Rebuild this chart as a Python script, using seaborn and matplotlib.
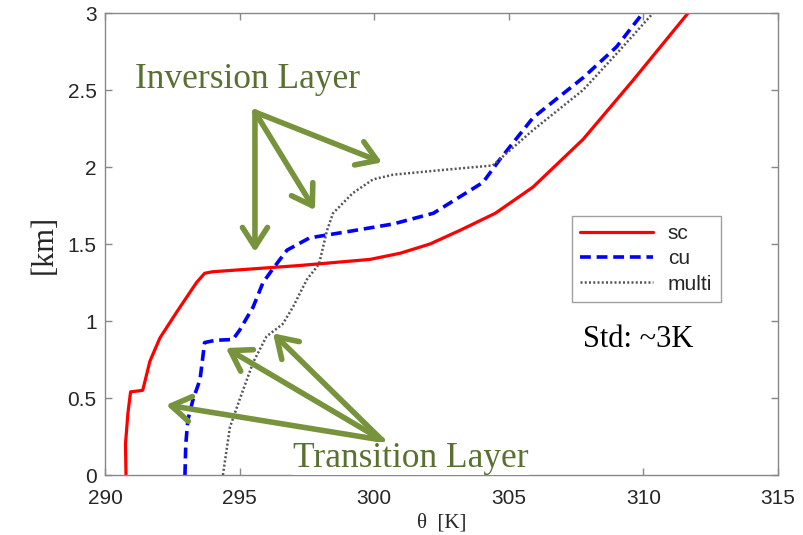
import numpy as np
import pandas as pd
import seaborn as sns
import matplotlib.pyplot as plt

# Potential temperature profiles
sc_theta = [290.78, 290.76, 290.85, 290.95, 291.4, 291.67, 292.04, 292.67, 293.4, 293.7, 294.0,
            297.2, 299.84, 300.96, 302.07, 303.2, 304.5, 305.9, 307.76, 309.6, 311.66]
sc_z = [0.0, 0.2, 0.4, 0.54, 0.55, 0.74, 0.89, 1.06, 1.25, 1.31, 1.32,
        1.36, 1.40, 1.44, 1.50, 1.59, 1.70, 1.87, 2.18, 2.56, 3.0]

cu_theta = [292.97, 293.0, 293.08, 293.27, 293.53, 293.7, 294.1, 294.75, 295.0, 295.5, 295.87,
            296.24, 296.76, 297.6, 299.0, 300.7, 302.2, 304.04, 304.67, 305.9, 307.76, 309.0, 309.98]
cu_z = [0.0, 0.2, 0.36, 0.49, 0.62, 0.86, 0.875, 0.88, 0.94, 1.09, 1.25,
        1.34, 1.46, 1.54, 1.58, 1.63, 1.70, 1.90, 2.05, 2.32, 2.58, 2.78, 3.0]

multi_theta = [294.38, 294.64, 295.0, 295.5, 296.0, 296.3, 296.6, 296.98, 297.5, 297.95, 298.25,
               298.47, 299.2, 299.96, 300.7, 302.5, 304.4, 305.9, 307.76, 309.13, 310.36]
multi_z = [0.0, 0.31, 0.49, 0.73, 0.9, 0.94, 0.98, 1.09, 1.27, 1.37, 1.59,
           1.70, 1.83, 1.92, 1.95, 1.98, 2.01, 2.24, 2.5, 2.76, 3.0]

xticks = [290, 295, 300, 305, 310, 315]
yticks = [0, 0.5, 1, 1.5, 2, 2.5, 3]
ytick_labels = ["0", "0.5", "1", "1.5", "2", "2.5", "3"]

sns.set_style("ticks")
plt.rcParams["font.family"] = ["Liberation Sans", "DejaVu Sans"]

fig = plt.figure(figsize=(8.04, 5.35), dpi=100)
ax = fig.add_axes([0.1306, 0.1121, 0.8371, 0.8636])

sns.lineplot(x=sc_theta, y=sc_z, sort=False, estimator=None, color="#ff0000",
             lw=2.3, label="sc", ax=ax)
sns.lineplot(x=cu_theta, y=cu_z, sort=False, estimator=None, color="#0000ff",
             lw=2.6, linestyle=(0, (3, 1.6)), label="cu", ax=ax)
sns.lineplot(x=multi_theta, y=multi_z, sort=False, estimator=None, color="#555555",
             lw=1.8, linestyle=(0, (0.8, 0.9)), label="multi", ax=ax)

ax.set_xlim(290, 315)
ax.set_ylim(0, 3)
ax.set_xticks(xticks)
ax.set_xticklabels([str(t) for t in xticks])
ax.set_yticks(yticks)
ax.set_yticklabels(ytick_labels)
ax.tick_params(direction="in", length=5, width=1, color="#888888", labelsize=15,
               top=True, right=True, pad=6)
ax.tick_params(axis="x", pad=10)
for sp in ax.spines.values():
    sp.set_color("#888888")
    sp.set_linewidth(1)

ax.set_xlabel(r"θ  [K]", family="Liberation Serif", fontsize=15, labelpad=4)
ax.set_ylabel("[km]", family="Liberation Serif", fontsize=22, labelpad=6)

leg = ax.legend(loc="upper left", bbox_to_anchor=(0.694, 0.561), fontsize=15,
                handlelength=3.5, frameon=True, fancybox=False, borderpad=0.4,
                labelspacing=0.3, borderaxespad=0, handletextpad=0.7)
leg.get_frame().set_edgecolor("#888888")
leg.get_frame().set_linewidth(1)

arrow_green = "#77933c"
text_green = "#5a7030"
arrow_kw = dict(arrowstyle="->,head_length=0.7,head_width=0.45", lw=4,
                color=arrow_green, shrinkA=0, shrinkB=0, mutation_scale=20)

ax.text(291.11, 2.565, "Inversion Layer", family="Liberation Serif", fontsize=25.5,
        color=text_green, ha="left", va="center")
for tgt in [(295.57, 1.448), (297.8, 1.72), (300.29, 2.03)]:
    ax.annotate("", xy=tgt, xytext=(295.57, 2.357), arrowprops=arrow_kw)

for tgt in [(292.27, 0.455), (294.49, 0.825), (296.24, 0.92)]:
    ax.annotate("", xy=tgt, xytext=(300.29, 0.227), arrowprops=arrow_kw)
ax.text(296.98, 0.11, "Transition Layer", family="Liberation Serif", fontsize=25.5,
        color=text_green, ha="left", va="center", zorder=5,
        bbox=dict(facecolor="white", edgecolor="none", pad=0))

ax.text(307.76, 0.877, "Std: ~3K", family="Liberation Serif", fontsize=22,
        color="black", ha="left", va="center")

fig.savefig("out.png", dpi=100)
